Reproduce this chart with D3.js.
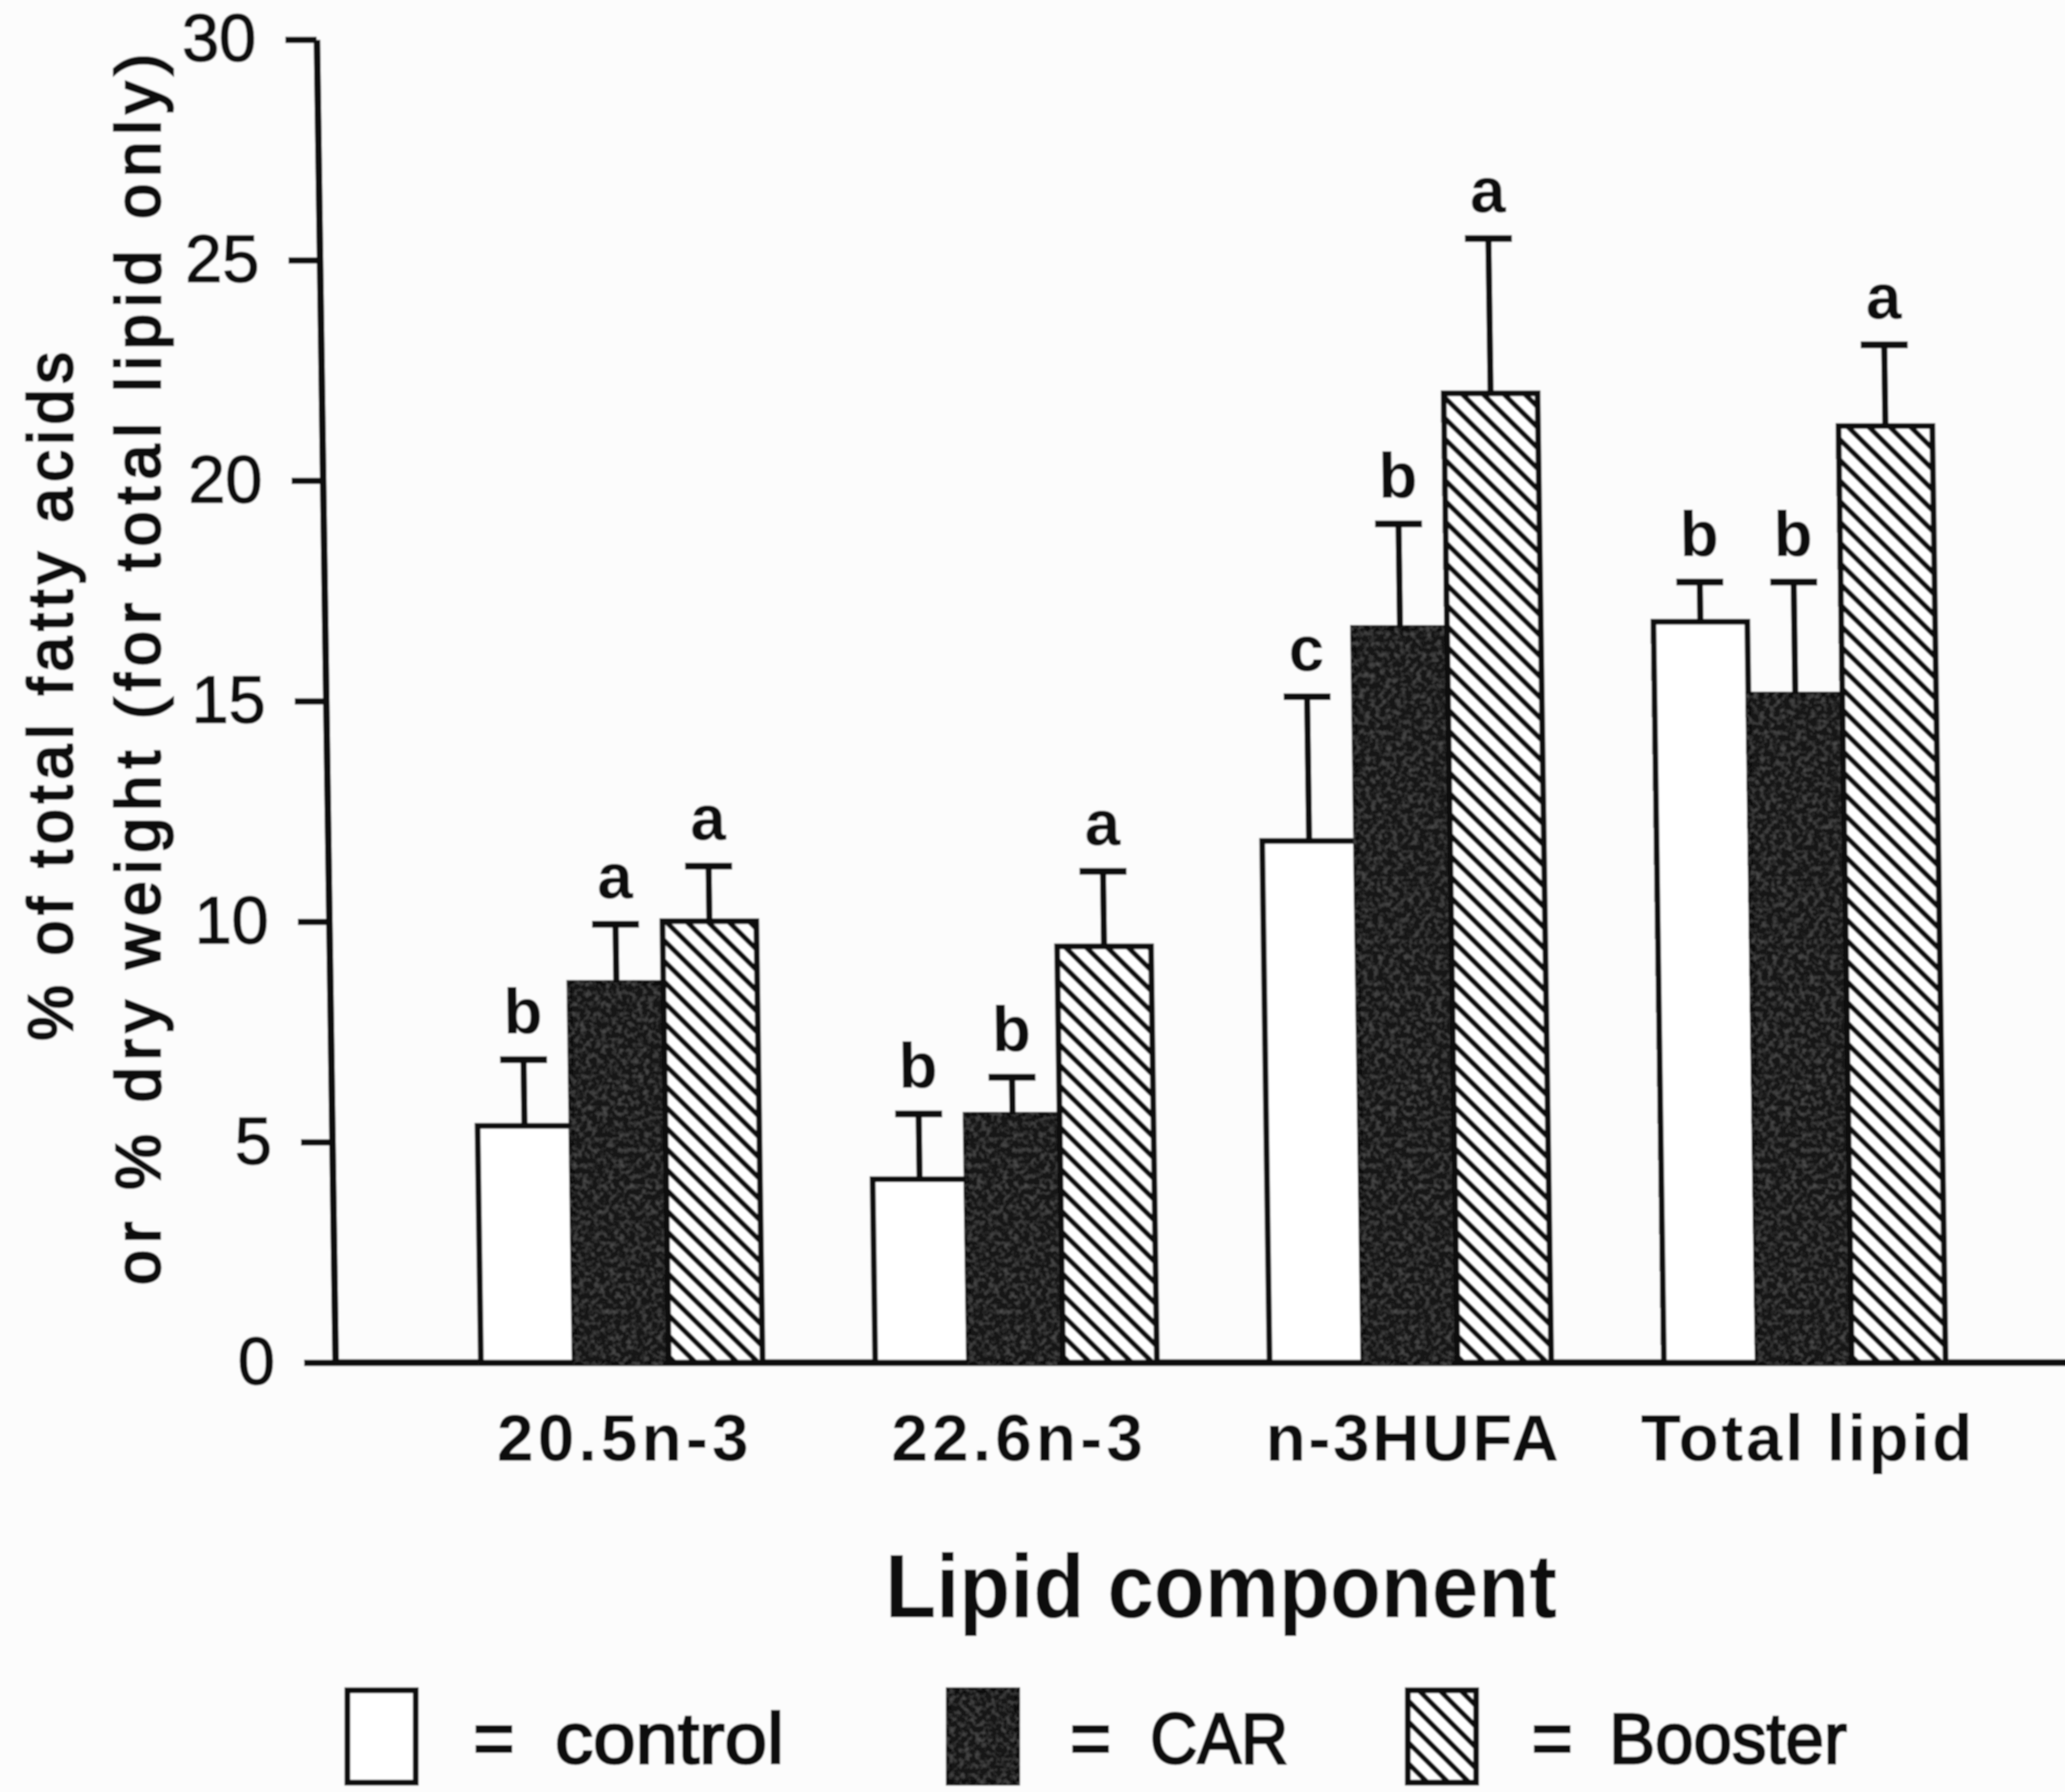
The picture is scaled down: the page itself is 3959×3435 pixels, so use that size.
<!DOCTYPE html>
<html>
<head>
<meta charset="utf-8">
<script src="https://cdn.jsdelivr.net/npm/d3@7/dist/d3.min.js"></script>
<style>
  html, body { margin: 0; padding: 0; background: #fcfcfc; }
  svg { display: block; }
</style>
</head>
<body>
<svg id="chart" width="3959" height="3435"></svg>
<script>
// ---- data -------------------------------------------------------------
const categories = ["20.5n-3", "22.6n-3", "n-3HUFA", "Total lipid"];
const treatments = ["control", "CAR", "Booster"];

const controlMean = [5.37, 4.16, 11.83, 16.80];
const controlSD   = [1.50, 1.48, 3.27, 0.90];
const carMean     = [8.61, 5.62, 16.66, 15.15];
const carSD       = [1.33, 0.85, 2.36, 2.55];
const boosterMean = [10.01, 9.44, 21.98, 21.24];
const boosterSD   = [1.25, 1.70, 3.51, 1.84];

const controlLetters = ["b", "b", "c", "b"];
const carLetters     = ["a", "b", "b", "b"];
const boosterLetters = ["a", "a", "a", "a"];

const yTicks = [0, 5, 10, 15, 20, 25, 30];

const yTitleLines = ["% of total fatty acids", "or % dry weight (for total lipid only)"];
const xTitle = "Lipid component";

// ---- assemble rows ----------------------------------------------------
const means   = { control: controlMean, CAR: carMean, Booster: boosterMean };
const sds     = { control: controlSD, CAR: carSD, Booster: boosterSD };
const letters = { control: controlLetters, CAR: carLetters, Booster: boosterLetters };

const rows = [];
categories.forEach((c, i) => {
  treatments.forEach(t => {
    rows.push({ cat: c, trt: t, mean: means[t][i], sd: sds[t][i], letter: letters[t][i] });
  });
});

// ---- setup ------------------------------------------------------------
const svg = d3.select("#chart");
const ink = "#111";
const font = "'Liberation Sans', Arial, Helvetica, sans-serif";
const baseY = 2612;

const defs = svg.append("defs");

// diagonal hatch for Booster
const hatch = defs.append("pattern")
  .attr("id", "hatch").attr("patternUnits", "userSpaceOnUse")
  .attr("width", 40).attr("height", 40);
hatch.append("rect").attr("width", 40).attr("height", 40).attr("fill", "#fff");
hatch.append("path")
  .attr("d", "M-10,-10 L50,50 M-10,30 L10,50 M30,-10 L50,10")
  .attr("stroke", ink).attr("stroke-width", 10);

// fine grain over the dark CAR fill
const grain = defs.append("filter").attr("id", "grain");
grain.append("feTurbulence").attr("type", "fractalNoise")
  .attr("baseFrequency", 0.1).attr("numOctaves", 2).attr("seed", 7).attr("result", "noise");
grain.append("feColorMatrix").attr("in", "noise").attr("type", "matrix")
  .attr("values", "0 0 0 0 0.36  0 0 0 0 0.36  0 0 0 0 0.36  0.5 0 0 0 -0.22")
  .attr("result", "speck");
grain.append("feComposite").attr("in", "speck").attr("in2", "SourceGraphic")
  .attr("operator", "in").attr("result", "s");
const gm = grain.append("feMerge");
gm.append("feMergeNode").attr("in", "SourceGraphic");
gm.append("feMergeNode").attr("in", "s");

// slight softness of print
const soft = defs.append("filter").attr("id", "soft")
  .attr("x", 0).attr("y", 0).attr("width", 1).attr("height", 1);
soft.append("feGaussianBlur").attr("stdDeviation", 1.4);

const fills = { control: "#ffffff", CAR: "#161616", Booster: "url(#hatch)" };

const root = svg.append("g").attr("filter", "url(#soft)");
root.append("rect").attr("width", 3959).attr("height", 3435).attr("fill", "#fcfcfc");

// ---- scales -----------------------------------------------------------
const x0 = d3.scaleBand().domain(categories).range([643, 4009])
  .paddingInner(0.2857).paddingOuter(0.369);
const x1 = d3.scaleBand().domain(treatments).range([0, x0.bandwidth()]);
const y = d3.scaleLinear().domain([0, 30]).range([baseY, 76]);

// plot area, leaning slightly as printed
const plot = root.append("g")
  .attr("transform", `translate(0,${baseY}) skewX(0.81) translate(0,${-baseY})`);

// y axis
const yAxis = plot.append("g").attr("transform", `translate(${x0.range()[0]},0)`)
  .call(d3.axisLeft(y).tickValues(yTicks).tickSize(60).tickSizeOuter(0).tickPadding(56));
yAxis.select(".domain").attr("stroke", ink).attr("stroke-width", 13);
yAxis.selectAll(".tick line").attr("stroke", ink).attr("stroke-width", 12);
yAxis.selectAll(".tick text").attr("fill", ink)
  .attr("stroke", ink).attr("stroke-width", 2.5)
  .style("font-family", font).style("font-size", "128px");

// x axis baseline
plot.append("line")
  .attr("x1", x0.range()[0]).attr("x2", x0.range()[1])
  .attr("y1", y(0)).attr("y2", y(0))
  .attr("stroke", ink).attr("stroke-width", 13);

// bars
const groups = plot.append("g").selectAll("g.bar").data(rows).join("g")
  .attr("class", "bar")
  .attr("transform", d => `translate(${x0(d.cat) + x1(d.trt)},0)`);

groups.append("rect")
  .attr("x", 0).attr("width", x1.bandwidth())
  .attr("y", d => y(d.mean)).attr("height", d => y(0) - y(d.mean))
  .attr("fill", d => fills[d.trt])
  .attr("filter", d => d.trt === "CAR" ? "url(#grain)" : null)
  .attr("stroke", ink).attr("stroke-width", 11);

// error bars (upper whisker only)
groups.append("line")
  .attr("x1", x1.bandwidth() / 2).attr("x2", x1.bandwidth() / 2)
  .attr("y1", d => y(d.mean)).attr("y2", d => y(d.mean + d.sd))
  .attr("stroke", ink).attr("stroke-width", 12);
groups.append("line")
  .attr("x1", x1.bandwidth() / 2 - 45).attr("x2", x1.bandwidth() / 2 + 45)
  .attr("y1", d => y(d.mean + d.sd)).attr("y2", d => y(d.mean + d.sd))
  .attr("stroke", ink).attr("stroke-width", 13);

// significance letters
groups.append("text")
  .attr("x", x1.bandwidth() / 2)
  .attr("y", d => y(d.mean + d.sd) - 50)
  .attr("text-anchor", "middle")
  .style("font-family", font).style("font-size", "122px").style("font-weight", "bold")
  .attr("fill", ink)
  .text(d => d.letter);

// ---- category labels --------------------------------------------------
root.append("g").selectAll("text").data(categories).join("text")
  .attr("x", d => x0(d) + x0.bandwidth() / 2 + 6)
  .attr("y", 2800)
  .attr("text-anchor", "middle")
  .style("font-family", font).style("font-size", "126px").style("font-weight", "bold")
  .style("letter-spacing", d => /^\d/.test(d) ? "8px" : "5px")
  .attr("fill", ink)
  .text(d => d);

// ---- axis titles ------------------------------------------------------
root.append("text")
  .attr("x", 2341).attr("y", 3100).attr("text-anchor", "middle")
  .attr("textLength", 1288).attr("lengthAdjust", "spacingAndGlyphs")
  .style("font-family", font).style("font-size", "172px").style("font-weight", "bold")
  .attr("fill", ink)
  .text(xTitle);

const yTitleSpec = [
  { x: 138, y: 1335, len: 1320 },
  { x: 306, y: 1283, len: 2360 }
];
root.append("g").selectAll("text").data(yTitleLines).join("text")
  .attr("transform", (d, i) => `translate(${yTitleSpec[i].x},${yTitleSpec[i].y}) rotate(-90)`)
  .attr("text-anchor", "middle")
  .attr("textLength", (d, i) => yTitleSpec[i].len).attr("lengthAdjust", "spacing")
  .style("font-family", font).style("font-size", "120px")
  .attr("fill", ink).attr("stroke", ink).attr("stroke-width", 5)
  .text(d => d);

// ---- legend -----------------------------------------------------------
const legendSpec = [
  { box: 666,  eq: 906,  label: 1064, len: 439 },
  { box: 1819, eq: 2050, label: 2205, len: 265 },
  { box: 2699, eq: 2935, label: 3085, len: 456 }
];
const legend = root.append("g").selectAll("g").data(treatments).join("g");
legend.append("rect")
  .attr("x", (d, i) => legendSpec[i].box).attr("y", 3240)
  .attr("width", 131).attr("height", 177)
  .attr("fill", d => fills[d])
  .attr("filter", d => d === "CAR" ? "url(#grain)" : null)
  .attr("stroke", ink).attr("stroke-width", 11);
legend.append("text")
  .attr("x", (d, i) => legendSpec[i].eq).attr("y", 3380)
  .style("font-family", font).style("font-size", "140px").style("font-weight", "bold")
  .attr("fill", ink)
  .text("=");
legend.append("text")
  .attr("x", (d, i) => legendSpec[i].label).attr("y", 3380)
  .attr("textLength", (d, i) => legendSpec[i].len).attr("lengthAdjust", "spacingAndGlyphs")
  .style("font-family", font).style("font-size", "138px")
  .attr("fill", ink).attr("stroke", ink).attr("stroke-width", 4.5)
  .text(d => d);
</script>
</body>
</html>
